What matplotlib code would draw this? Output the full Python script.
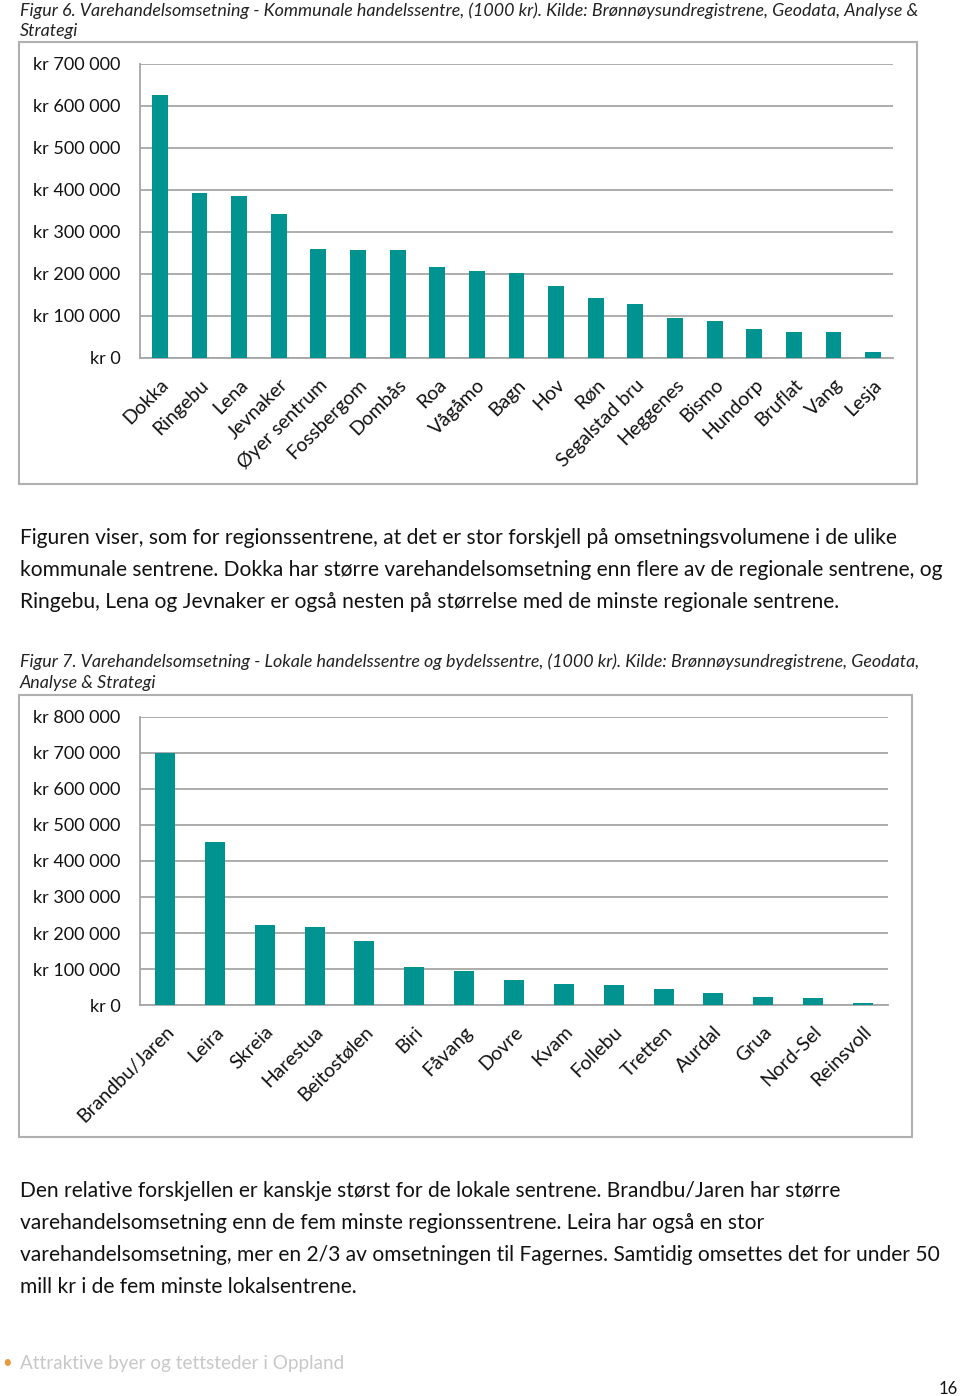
import matplotlib.pyplot as plt
from matplotlib.patches import Rectangle
from matplotlib.ticker import FuncFormatter

# Figur 6 - kommunale handelssentre (1000 kr)
kommunale = ['Dokka', 'Ringebu', 'Lena', 'Jevnaker', 'Øyer sentrum', 'Fossbergom',
             'Dombås', 'Roa', 'Vågåmo', 'Bagn', 'Hov', 'Røn', 'Segalstad bru',
             'Heggenes', 'Bismo', 'Hundorp', 'Bruflat', 'Vang', 'Lesja']
kommunale_verdi = [626000, 392000, 386000, 342000, 259000, 256000, 256000, 217000,
                   208000, 202000, 171000, 142000, 128000, 95000, 88000, 68000,
                   62000, 62000, 13500]

# Figur 7 - lokale handelssentre og bydelssentre (1000 kr)
lokale = ['Brandbu/Jaren', 'Leira', 'Skreia', 'Harestua', 'Beitostølen', 'Biri',
          'Fåvang', 'Dovre', 'Kvam', 'Follebu', 'Tretten', 'Aurdal', 'Grua',
          'Nord-Sel', 'Reinsvoll']
lokale_verdi = [700000, 453000, 221000, 217000, 179000, 105000, 95000, 70000,
                57000, 55000, 45000, 32000, 23000, 20000, 5500]

W, H = 960, 1396
BAR = '#00938F'
GRID = '#a6a6a6'
FONT = ['Lato', 'DejaVu Sans']
plt.rcParams['font.family'] = FONT

fig = plt.figure(figsize=(W / 100, H / 100), dpi=100)


def fx(x):
    return x / W


def fy(y):
    return 1 - y / H


def kr(v, pos):
    if v == 0:
        return 'kr 0'
    return 'kr ' + f'{int(v):,}'.replace(',', ' ')


def chart(box, plot, names, values, ymax):
    x0, y0, x1, y1 = box
    fig.patches.append(Rectangle((fx(x0), fy(y1)), fx(x1 - x0), (y1 - y0) / H,
                                 transform=fig.transFigure, fill=False,
                                 edgecolor='#b0b0b0', lw=1.5))
    l, t, r, b = plot
    ax = fig.add_axes([fx(l), fy(b), fx(r - l), (b - t) / H])
    ax.bar(range(len(values)), values, width=0.4, color=BAR, zorder=3)
    ax.set_xlim(-0.5, len(values) - 0.5)
    ax.set_ylim(0, ymax)
    ax.set_yticks(range(0, ymax + 1, 100000))
    ax.yaxis.set_major_formatter(FuncFormatter(kr))
    ax.yaxis.grid(True, color=GRID, lw=1.3, zorder=0)
    ax.set_axisbelow(True)
    for s in ['top', 'right']:
        ax.spines[s].set_visible(False)
    for s in ['left', 'bottom']:
        ax.spines[s].set_color(GRID)
        ax.spines[s].set_linewidth(1.3)
    ax.tick_params(axis='y', length=0, pad=14, labelsize=13, labelcolor='#111111')
    ax.tick_params(axis='x', length=0, pad=13, labelsize=14, labelcolor='#111111')
    ax.set_xticks(range(len(names)))
    ax.set_xticklabels(names, rotation=45, ha='right', rotation_mode='anchor')
    return ax


cap = dict(fontsize=12.9, style='italic', color='#222222', va='top', family=FONT)
body = dict(fontsize=15.1, color='#111111', va='top', family=FONT)

fig.text(fx(20), fy(2), 'Figur 6. Varehandelsomsetning - Kommunale handelssentre, (1000 kr). '
         'Kilde: Brønnøysundregistrene, Geodata, Analyse &', **cap)
fig.text(fx(20), fy(23), 'Strategi', **cap)

chart((19, 42, 917, 484), (140, 64, 893, 358), kommunale, kommunale_verdi, 700000)

tekst1 = ['Figuren viser, som for regionssentrene, at det er stor forskjell på omsetningsvolumene i de ulike',
          'kommunale sentrene. Dokka har større varehandelsomsetning enn flere av de regionale sentrene, og',
          'Ringebu, Lena og Jevnaker er også nesten på størrelse med de minste regionale sentrene.']
for i, s in enumerate(tekst1):
    fig.text(fx(20), fy(528 + 32 * i), s, **body)

fig.text(fx(20), fy(653), 'Figur 7. Varehandelsomsetning - Lokale handelssentre og bydelssentre, (1000 kr). '
         'Kilde: Brønnøysundregistrene, Geodata,', **cap)
fig.text(fx(20), fy(675), 'Analyse & Strategi', **cap)

chart((19, 695, 912, 1137), (140, 717, 888, 1005), lokale, lokale_verdi, 800000)

tekst2 = ['Den relative forskjellen er kanskje størst for de lokale sentrene. Brandbu/Jaren har større',
          'varehandelsomsetning enn de fem minste regionssentrene. Leira har også en stor',
          'varehandelsomsetning, mer en 2/3 av omsetningen til Fagernes. Samtidig omsettes det for under 50',
          'mill kr i de fem minste lokalsentrene.']
for i, s in enumerate(tekst2):
    fig.text(fx(20), fy(1181 + 32 * i), s, **body)

fig.text(fx(2), fy(1355), '•', fontsize=12, color='#e89a3c', va='top')
fig.text(fx(20), fy(1355), 'Attraktive byer og tettsteder i Oppland', fontsize=13.6,
         color='#c8c8c8', va='top')
fig.text(fx(958), fy(1381), '16', fontsize=12, color='#111111', va='top', ha='right')

fig.savefig('out.png', dpi=100)
